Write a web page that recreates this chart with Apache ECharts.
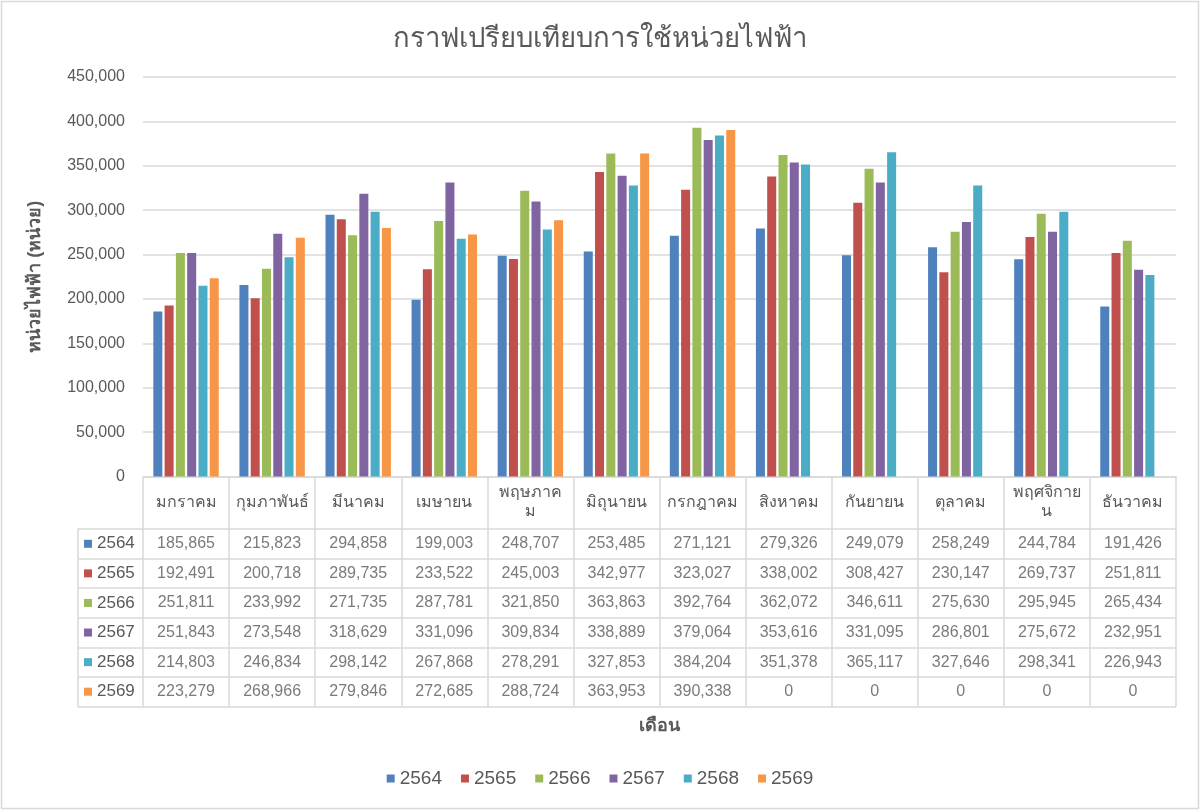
<!DOCTYPE html>
<html>
<head>
<meta charset="utf-8">
<script src="https://cdn.jsdelivr.net/npm/echarts@6/dist/echarts.min.js"></script>
<style>html,body{margin:0;padding:0;background:#fff}#c{width:1200px;height:810px}</style>
</head>
<body>
<div id="c"></div>
<script>
const months = ['มกราคม','กุมภาพันธ์','มีนาคม','เมษายน','พฤษภาคม','มิถุนายน','กรกฎาคม','สิงหาคม','กันยายน','ตุลาคม','พฤศจิกายน','ธันวาคม'];
const years = ['2564','2565','2566','2567','2568','2569'];
const y2564 = [185865,215823,294858,199003,248707,253485,271121,279326,249079,258249,244784,191426];
const y2565 = [192491,200718,289735,233522,245003,342977,323027,338002,308427,230147,269737,251811];
const y2566 = [251811,233992,271735,287781,321850,363863,392764,362072,346611,275630,295945,265434];
const y2567 = [251843,273548,318629,331096,309834,338889,379064,353616,331095,286801,275672,232951];
const y2568 = [214803,246834,298142,267868,278291,327853,384204,351378,365117,327646,298341,226943];
const y2569 = [223279,268966,279846,272685,288724,363953,390338,0,0,0,0,0];
const yTicks = {min:0, max:450000, interval:50000};

const seriesValues = [y2564,y2565,y2566,y2567,y2568,y2569];
const colors = ['#4F81BD','#C0504D','#9BBB59','#8064A2','#4BACC6','#F79646'];
const FONT = "'Liberation Sans', 'Noto Sans', sans-serif";
const TXT = '#595959';
const GRIDC = '#d9d9d9';
const fmt = v => Number(v).toLocaleString('en-US');

// wrap a Thai label to a max width, never breaking before a combining mark
const mctx = document.createElement('canvas').getContext('2d');
mctx.font = "16px " + FONT;
const isMark = ch => /[\u0E31\u0E34-\u0E3A\u0E47-\u0E4E]/.test(ch);
function wrapLabel(s, maxW){
  if (mctx.measureText(s).width <= maxW) return s;
  let best = -1;
  for (let k = 1; k < s.length; k++){
    if (isMark(s[k])) continue;
    if (mctx.measureText(s.slice(0,k)).width <= maxW) best = k;
  }
  if (best < 1) return s;
  return s.slice(0,best) + '\n' + wrapLabel(s.slice(best), maxW);
}

const chart = echarts.init(document.getElementById('c'));

const bars = years.map((y,i)=>({
  name: y, type:'bar', xAxisIndex:0, yAxisIndex:0,
  data: seriesValues[i],
  itemStyle:{color:colors[i]},
  barGap:'25%', barCategoryGap:'24%'
}));

const cells = [];
seriesValues.forEach((arr,r)=>arr.forEach((v,c)=>cells.push([c,r,v])));

const rich = {};
colors.forEach((c,i)=>{ rich['s'+i] = {width:8,height:8,backgroundColor:c}; });
rich.t = {fontSize:17, color:TXT, fontFamily:FONT, padding:[0,0,0,5]};

chart.setOption({
  animation:false,
  textStyle:{fontFamily:FONT},
  color:colors,
  title:{text:'กราฟเปรียบเทียบการใช้หน่วยไฟฟ้า', left:'center', top:20,
    textStyle:{fontSize:27.5, fontWeight:'normal', color:TXT, fontFamily:FONT}},
  legend:{data:years, bottom:17, left:'center', icon:'rect', itemWidth:8, itemHeight:8, itemGap:19,
    textStyle:{fontSize:19, color:TXT, fontFamily:FONT}},
  graphic:[{type:'rect', shape:{x:1.5,y:1.5,width:1197,height:807}, style:{fill:'none', stroke:'#d9d9d9', lineWidth:1.5}, silent:true}],
  grid:[
    {left:143, right:24, top:77, height:399.5},
    {left:143, right:24, top:529, height:177.5},
    {left:78, width:65, top:529, height:177.5}
  ],
  xAxis:[
    {type:'category', gridIndex:0, data:months,
     name:'เดือน', nameLocation:'middle', nameGap:241,
     nameTextStyle:{fontSize:18, fontWeight:'bold', color:TXT, fontFamily:FONT},
     axisLine:{lineStyle:{color:GRIDC, width:1.5}},
     axisTick:{show:true, length:230, lineStyle:{color:GRIDC, width:1.5}},
     axisLabel:{color:TXT, fontSize:16, fontFamily:FONT, margin:26, verticalAlign:'middle', lineHeight:19,
       interval:0, formatter:v=>wrapLabel(v, 73)}},
    {type:'category', gridIndex:1, data:months, show:false},
    {type:'value', gridIndex:2, show:false, min:0, max:1}
  ],
  yAxis:[
    {type:'value', gridIndex:0, min:yTicks.min, max:yTicks.max, interval:yTicks.interval,
     name:'หน่วยไฟฟ้า (หน่วย)', nameLocation:'middle', nameGap:99, nameRotate:90,
     nameTextStyle:{fontSize:18, fontWeight:'bold', color:TXT, fontFamily:FONT},
     axisLine:{show:false}, axisTick:{show:false},
     axisLabel:{color:TXT, fontSize:16, fontFamily:FONT, margin:18, formatter:v=>fmt(v)},
     splitLine:{lineStyle:{color:GRIDC, width:1.5}}},
    {type:'category', gridIndex:1, data:years, inverse:true,
     axisLine:{show:false}, axisTick:{show:false}, axisLabel:{show:false},
     splitLine:{show:true, lineStyle:{color:GRIDC, width:1.5}}},
    {type:'category', gridIndex:2, data:years, inverse:true,
     axisLine:{show:true, lineStyle:{color:GRIDC, width:1.5}}, axisTick:{show:false},
     axisLabel:{inside:true, margin:6, formatter:(v,i)=>'{s'+i+'|}{t|'+v+'}', rich:rich},
     splitLine:{show:true, lineStyle:{color:GRIDC, width:1.5}}}
  ],
  series:[...bars,
    {type:'scatter', xAxisIndex:1, yAxisIndex:1, data:cells, symbolSize:1,
     itemStyle:{color:'rgba(0,0,0,0)'}, silent:true,
     label:{show:true, position:'inside', formatter:p=>fmt(p.value[2]), fontSize:16, color:TXT, fontFamily:FONT}}
  ]
});
</script>
</body>
</html>
